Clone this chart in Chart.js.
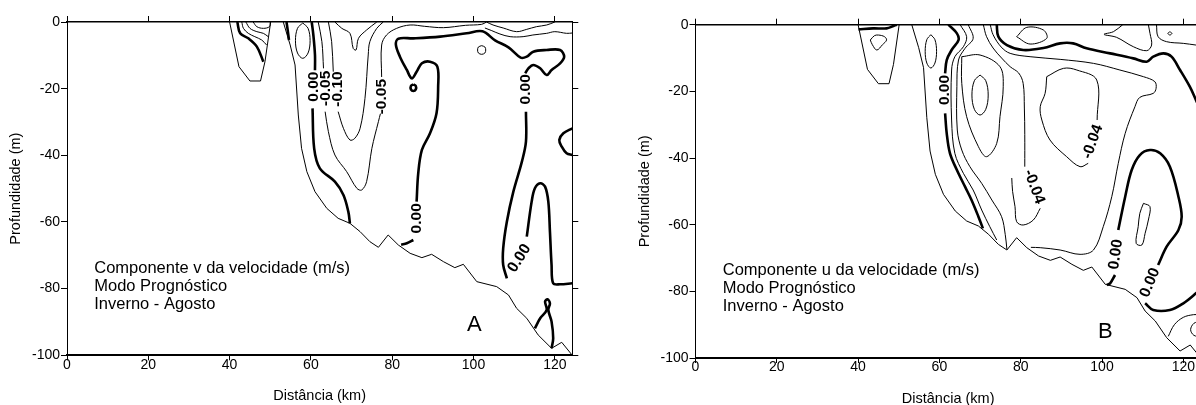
<!DOCTYPE html>
<html>
<head>
<meta charset="utf-8">
<script src="https://cdn.jsdelivr.net/npm/chart.js@4.4.1/dist/chart.umd.min.js"></script>
<style>
  html, body { margin: 0; padding: 0; background: #fff; overflow: hidden; }
  #wrap { position: relative; width: 1196px; height: 405px; overflow: hidden; }
  #chartA { position: absolute; left: 0; top: 0; }
  #chartB { position: absolute; left: 628px; top: 0; }
</style>
</head>
<body>
<div id="wrap">
  <canvas id="chartA" width="600" height="405"></canvas>
  <canvas id="chartB" width="600" height="405"></canvas>
</div>
<script>
// Axis ticks (km, m)
const xTicks = [0, 20, 40, 60, 80, 100, 120];
const yTicks = [-100, -80, -60, -40, -20, 0];
const X_MAX = 124.3;

// Bottom profile, shared by both sections: [distance km, depth m]
const bathyBasin = [[40, 0], [42.3, -13.4], [45, -17.7], [47.6, -17.7], [48.7, -11.9], [50.1, 0]];
const bathyMain = [[53.2, 0], [54.9, -6.9], [56.1, -12.9], [56.9, -27.9], [57.7, -37.9], [59, -44.9],
  [61, -50.9], [63.9, -55.9], [66.7, -58.9], [69.6, -60.4], [72.1, -62.9], [74.5, -65.9], [76.6, -67.6],
  [79, -63.9], [81.5, -66.9], [84.4, -69.4], [87.3, -70.7], [89.7, -69.7], [92.6, -71.9], [95.4, -73.7],
  [97.5, -72.7], [100.8, -77.9], [105.7, -79.4], [108.6, -81.9], [110.6, -85.9], [113.1, -88.9],
  [115.9, -93.9], [119.2, -97.9], [121.7, -96.1], [124.3, -100]];

// --- Section A: v component contours (null = gap for a label) ---
const aBasinThick = [[41.9, 0], [42.6, -3.4], [44.6, -4.9], [46.7, -7.4], [48.3, -11.9]];
const aBasin1 = [[43, 0], [43.4, -1.9], [44.6, -3.4], [46.2, -4.4], [47.9, -5.4], [49.1, -6.9]];
const aBasin2 = [[44, 0], [45, -1.9], [46.7, -2.9], [48.3, -3.4], [49.5, -4.4]];
const aBasin3 = [[45.8, 0], [46.7, -1.4], [48.3, -1.9], [49.8, -1.4], [50, 0]];
const aShelfThick = [[54, 0], [54.3, -2.5], [54.6, -5.4]];
const aEllipse = [[58, -0.3], [59.3, -1.9], [59.8, -5.6], [59.3, -9.3], [58, -10.9], [56.7, -9.3],
  [56.2, -5.6], [56.7, -1.9], [58, -0.3]];
const aZeroWest = [[60.2, 0], [60.6, -3.9], [61, -9.9], [61, -14.5], null, [60.4, -25.9], [60.8, -37.9],
  [62.2, -43.9], [65.9, -47.9], [68, -51.9], [69.2, -56.9], [69.6, -60.4]];
const aMinus05 = [[61.8, 0], [62.7, -5.9], [63.1, -13.9], null, [63.5, -26.9], [64.3, -32.9], [65.9, -39.9],
  [68.8, -44.9], [71.3, -49.9], [72.5, -50.4], [73.7, -47.9], [75, -37.9], [76.6, -29.9], [77.1, -27.5],
  null, [77.4, -16.5], [77.4, -6.9], [78.6, -3.9], [81.1, -1.9], [84.4, -0.9], [88, -1.3], [92.6, -1.7],
  [98, -1], [102, -0.7], [103.2, 0]];
const aMinus10 = [[64.3, 0], [65.1, -5.9], [65.5, -14.9], null, [66.7, -26.9], [68, -31.9], [69.6, -35.4],
  [70.8, -34.9], [72.1, -31.9], [73.3, -22.9], [74.1, -9.9], [74.5, -5.9], [76.2, -1.9], [77.8, 0]];
const aSurfaceV = [[65.9, 0], [67.6, -1.9], [69.6, -3.4], [70.4, -7.9], [71.1, -8.4], [71.7, -4.9],
  [73.7, -2.4], [76.2, 0]];
const aZeroMain = [[82.2, -66.8], [83.6, -66.4], [85.2, -65.4], null, [86, -53.9], [86.4, -45.4],
  [87.3, -38.4], [89.3, -33.4], [90.9, -27.4], [91.3, -19.4], [91.1, -13.4], [89.3, -11.9], [87.3, -12.4],
  [86, -14.9], [84.8, -16.9], [83.6, -14.4], [81.9, -10.4], [80.9, -6.8], [81.5, -5], [85.2, -4.9],
  [91.8, -4.4], [98.3, -3.4], [102.2, -2.8], [105.3, -5.5], [108.6, -7.6], [111.6, -10.7], [113.1, -10.4],
  [114.7, -8.9], [118, -8.4], [121.3, -8.4], [122.3, -10.4], [121.3, -12.4], [119.2, -14.4], [118, -15.9],
  [116.4, -13.9], [114.7, -12.9], [113.5, -13.9], [112.7, -15.4], null, [112.9, -26.9], [112.9, -35.9],
  [111.9, -41.9], [109.8, -50.9], [108.2, -59.9], [107.3, -67.9], [107.3, -72.9], [108.2, -76.9], null,
  [113.1, -64.4], [114.3, -53.9], [115.1, -49.9], [116.4, -48.4], [117.6, -49.4], [118.4, -53.9],
  [118.8, -62.9], [119.2, -72.9], [119.6, -78.4], [121.3, -78.7], [124.3, -78.4]];
const aSpotThick = [[85.2, -18.7], [85.8, -19.2], [85.8, -20.2], [85.2, -20.7], [84.6, -20.2], [84.6, -19.2], [85.2, -18.7]];
const aSpotThin = [[102, -7.1], [102.8, -7.5], [103, -8.4], [102.8, -9.3], [102, -9.7], [101.2, -9.3],
  [101, -8.4], [101.2, -7.5], [102, -7.1]];
const aEastBump = [[124.3, -31.9], [122.1, -33.4], [121.1, -35.4], [121.7, -37.4], [122.9, -39.4], [124.3, -39.9]];
const aBottomLoop = [[115.1, -91.9], [116.4, -88.9], [118, -86.4], [117.6, -83.9], [118.2, -83.2],
  [118.8, -84.4], [118.4, -86.4], [119.2, -89.9], [119.6, -94.9], [119.2, -97.9]];
const aTop1 = [[103.2, 0], [104.8, -0.9], [107.3, -1.8], [110.6, -2.9], [113.1, -2.2], [115.5, -1.4], [118, -0.9], [120, 0]];
const aTop2 = [[102.8, -1.8], [104.5, -2.6], [106.5, -3.6], [109, -4.4], [112.2, -4.4], [114.6, -3.9],
  [118, -3.4], [120, -2.9], [122.9, -3.4], [124.3, -3.3]];

const labelsA = [['0.00', 60.6, -19.4, -90], ['-0.05', 63.7, -19.9, -90], ['-0.10', 66.5, -20.1, -90],
  ['-0.05', 77.4, -22.4, -90], ['0.00', 112.9, -20.2, -90], ['0.00', 86, -58.9, -90], ['0.00', 111.3, -70.9, -58]];
const notesA = ['Componente v da velocidade (m/s)', 'Modo Prognóstico', 'Inverno - Agosto'];

// --- Section B: u component contours ---
const bBasinThick = [[40.1, -1.4], [43.7, -1.1], [47, -1.1], [48.7, -0.4], [49.5, 0]];
const bBasinLoop = [[43, -4.6], [44, -3.3], [45, -3.1], [46.5, -3.6], [47, -4.6], [46, -6], [44.6, -7.6], [43.5, -6], [43, -4.6]];
const bEllipse = [[57.9, -3], [58.9, -4.5], [59.3, -8], [58.9, -11.5], [57.9, -13], [56.9, -11.5],
  [56.5, -8], [56.9, -4.5], [57.9, -3]];
const bZeroWest = [[62.2, 0], [64.3, -2.6], [64.7, -4.6], [63, -7.6], [61.8, -10.6], [61.4, -14.6], null,
  [61.4, -26.6], [61.8, -32.6], [62.6, -38.6], [64.3, -43.6], [66.3, -48.6], [67.9, -52.6], [69.6, -57.6], [70.7, -61.1]];
const bWest1 = [[65.1, 0], [66.7, -3.6], [65.9, -6.6], [63.8, -9.6], [63, -13.6], [63, -28.6], [63.8, -38.6],
  [65.9, -44.6], [68.3, -49.6], [70.4, -55.6], [72.4, -60.6], [74.1, -64.6]];
const bWest2 = [[67.1, 0], [68.3, -4.1], [66.3, -7.1], [64.7, -10.6], [64.3, -18.6], [64.4, -31.6], [65.5, -37.6],
  [67.5, -42.6], [70.4, -47.6], [72.9, -52.6], [75.3, -57.6], [76.2, -63], [76.6, -67.4]];
const bCore = [[65.5, -9.6], [70, -9.1], [74.9, -12.6], [75.7, -18.6], [74.9, -27.6], [74.1, -35.6], [71.6, -39.6],
  [69.6, -36.6], [66.7, -27.6], [65.5, -17.6], [65.5, -9.6]];
const bCoreInner = [[70, -15.1], [71.4, -16.8], [72, -21.1], [71.4, -25.4], [70, -27.1], [68.6, -25.4],
  [68, -21.1], [68.6, -16.8], [70, -15.1]];
const bMinus04a = [[70.8, 0], [71.6, -3.6], [73.2, -7], [75.3, -10], [77.4, -12.6], [79.5, -14.5], [80.6, -17.6],
  [80.9, -25], [81, -33], [81, -42.6], null, [84.8, -55.1], [83.1, -58.6], [80.6, -60.1], [79, -59.1],
  [78.6, -54.6], [78, -50], [77.8, -46]];
const bMid = [[72.5, 0], [73.2, -3], [75.2, -6.7], [77.4, -8.6], [82.3, -9.6], [89.7, -10.4], [97.9, -11.6],
  [104.4, -13.6], [110.2, -15.6], [113, -17.1], [113.3, -19.1], [112.6, -20.6], [109.3, -21.8], [108.1, -24.6],
  [105.7, -32.6], [104, -41.6], [102.4, -51.6], [100.3, -60.6], [97.9, -67.6], [94.6, -68.9], [89.7, -67.6],
  [84.8, -66.9], [82.5, -66.8]];
const bMinus04b = [[86.4, -15.6], [90.5, -13.1], [93.8, -13.6], [98.7, -16.6], [98.8, -28.6], null,
  [96.6, -41.6], [94.6, -42.6], [91.3, -39.6], [87.2, -34.6], [85.2, -28.6], [84.8, -24.6], [86, -20.6], [86.4, -15.6]];
const bZeroTop = [[74.1, 0], [74.5, -3.6], [76.6, -6.1], [80.6, -7.6], [85.6, -7], [89.7, -5.6], [92.9, -5.6],
  [96.2, -7.1], [102, -8.6], [107.7, -10.1], [111, -11.1], [112.6, -9.6], [115.1, -8.6], [117.1, -9.6],
  [119.2, -13.6], [121.6, -18.6], [123.1, -22.6], [124.3, -26]];
const bZeroEast = [[101.2, -78.1], [102, -77.6], [103.2, -75.1], null, [104, -61.6], [105.7, -51.6],
  [107.3, -43.6], [109.3, -39.1], [111.8, -37.6], [114.3, -38.6], [116.7, -42.6], [118.8, -51.6],
  [119.6, -57.6], [118.8, -61.6], [115.9, -66.6], [113.8, -72.1], null, [110.6, -83.6], [112.6, -85.6],
  [116.7, -85.6], [120, -83.6], [123.1, -80.6], [124.3, -79.2]];
const bBlob = [[110.2, -53.6], [111.8, -54.6], [111.4, -58.6], [110.6, -62.6], [109.8, -66.1], [108.4, -65.6],
  [108.9, -60.6], [109.3, -56.6], [110.2, -53.6]];
const bSurfLoop = [[79, -3.6], [82.3, -5.8], [86.4, -4.1], [85.6, -1.6], [81.5, -0.8], [79, -3.6]];
const bSurf1 = [[105.1, 0], [102.8, -2.1], [100.5, -2.9], [103.6, -3.8], [107.7, -6.6], [111, -7.8],
  [112.2, -6.1], [111.8, -2.6], [111.4, 0]];
const bSurf2 = [[113.4, 0], [113.8, -3.6], [115.9, -5.1], [120, -5.6], [123.1, -6.1], [124.3, -6.3]];
const bSurfDot = [[116.7, -2.1], [117.2, -2.6], [116.7, -3.1], [116.2, -2.6], [116.7, -2.1]];
const bDeep1 = [[116.3, -93.5], [117.8, -90], [120, -87.8], [122.5, -87], [124.3, -87]];
const bDeep2 = [[124.3, -89], [122.6, -89.6], [121.8, -91.5], [122.6, -93.2], [124.3, -93.6]];

const labelsB = [['0.00', 61.2, -19.6, -90], ['-0.04', 97.7, -35.1, -70], ['-0.04', 83.3, -48.6, 70],
  ['0.00', 103.4, -68.9, -82], ['0.00', 111.8, -77.4, -68]];
const notesB = ['Componente u da velocidade (m/s)', 'Modo Prognóstico', 'Inverno - Agosto'];

const FONT = '"Liberation Sans", Arial, sans-serif';

// Turn [x, y] pairs into Chart.js points, null breaks the line
function toPoints(line) {
  const pts = [];
  let lastX = 0;
  line.forEach(p => {
    if (p === null) {
      pts.push({ x: lastX, y: null });
    } else {
      pts.push({ x: p[0], y: p[1] });
      lastX = p[0];
    }
  });
  return pts;
}

function lineDataset(line, width, smooth) {
  return {
    data: toPoints(line),
    showLine: true,
    borderColor: '#000',
    borderWidth: width,
    pointRadius: 0,
    pointHoverRadius: 0,
    tension: smooth ? 0.35 : 0,
    spanGaps: false,
    fill: false
  };
}

// Draws contour labels and the caption text on top of the lines
function textPlugin(labels, notes, letter, noteX, noteY, letterPos) {
  return {
    id: 'contourText',
    afterDatasetsDraw(chart) {
      const ctx = chart.ctx;
      const xs = chart.scales.x;
      const ys = chart.scales.y;
      ctx.save();
      ctx.fillStyle = '#000';
      ctx.textAlign = 'center';
      ctx.textBaseline = 'middle';
      ctx.font = 'bold 15.5px ' + FONT;
      labels.forEach(([text, x, y, rot]) => {
        ctx.save();
        ctx.translate(xs.getPixelForValue(x), ys.getPixelForValue(y));
        ctx.rotate(rot * Math.PI / 180);
        ctx.fillText(text, 0, 0);
        ctx.restore();
      });

      ctx.textAlign = 'left';
      ctx.font = '16.5px ' + FONT;
      notes.forEach((text, i) => {
        ctx.fillText(text, xs.getPixelForValue(noteX), ys.getPixelForValue(noteY - i * 5.4));
      });

      ctx.font = '22px ' + FONT;
      ctx.fillText(letter, xs.getPixelForValue(letterPos[0]), ys.getPixelForValue(letterPos[1]));
      ctx.restore();
    }
  };
}

function buildScales(box) {
  const tickFont = { family: FONT, size: 14 };
  const titleFont = { family: FONT, size: 14.5 };
  const grid = { drawOnChartArea: false, drawTicks: true, tickLength: 6, color: '#000' };
  return {
    x: {
      type: 'linear', position: 'bottom', min: 0, max: X_MAX,
      afterBuildTicks: s => { s.ticks = xTicks.map(v => ({ value: v })); },
      afterFit: s => { s.height = box.bottom; },
      grid: { ...grid, tickLength: 5 },
      border: { display: true, color: '#000', width: 2 },
      ticks: { color: '#000', font: tickFont, padding: -4, maxRotation: 0, autoSkip: false },
      title: { display: true, text: 'Distância (km)', color: '#000', font: titleFont,
        padding: { top: 0, bottom: box.xTitlePad } }
    },
    x2: {
      type: 'linear', position: 'top', min: 0, max: X_MAX,
      afterBuildTicks: s => { s.ticks = xTicks.map(v => ({ value: v })); },
      afterFit: s => { s.height = box.top; },
      grid: grid,
      border: { display: true, color: '#000', width: 1.5 },
      ticks: { display: false }
    },
    y: {
      type: 'linear', position: 'left', min: -100, max: 0,
      afterBuildTicks: s => { s.ticks = yTicks.map(v => ({ value: v })); },
      afterFit: s => { s.width = box.left; },
      grid: grid,
      border: { display: true, color: '#000', width: 1 },
      ticks: { color: '#000', font: tickFont, padding: 1 },
      title: { display: true, text: 'Profundidade (m)', color: '#000', font: titleFont,
        padding: { top: box.yTitlePad, bottom: 0 } }
    },
    y2: {
      type: 'linear', position: 'right', min: -100, max: 0,
      afterBuildTicks: s => { s.ticks = yTicks.map(v => ({ value: v })); },
      afterFit: s => { s.width = box.right; },
      grid: grid,
      border: { display: true, color: '#000', width: 1 },
      ticks: { display: false }
    }
  };
}

function buildChart(canvasId, thick, thin, labels, notes, letter, letterPos, box) {
  const datasets = [
    lineDataset(bathyBasin, 1, false),
    lineDataset(bathyMain, 1, false)
  ];
  thin.forEach(l => datasets.push(lineDataset(l, 1, true)));
  thick.forEach(l => datasets.push(lineDataset(l, 2.6, true)));

  return new Chart(document.getElementById(canvasId), {
    type: 'scatter',
    data: { datasets: datasets },
    options: {
      responsive: false,
      animation: false,
      events: [],
      layout: { padding: 0 },
      scales: buildScales(box),
      plugins: { legend: { display: false }, tooltip: { enabled: false } }
    },
    plugins: [textPlugin(labels, notes, letter, 6.7, -73.8, letterPos)]
  });
}

function init() {
  buildChart('chartA',
    [aBasinThick, aShelfThick, aZeroWest, aZeroMain, aSpotThick, aEastBump, aBottomLoop],
    [aBasin1, aBasin2, aBasin3, aEllipse, aMinus05, aMinus10, aSurfaceV, aSpotThin, aTop1, aTop2],
    labelsA, notesA, 'A', [98.4, -91],
    { left: 67, right: 27.7, top: 22, bottom: 49.7, xTitlePad: 0.3, yTitlePad: 6.8 });

  buildChart('chartB',
    [bBasinThick, bZeroWest, bZeroTop, bZeroEast],
    [bBasinLoop, bEllipse, bWest1, bWest2, bCore, bCoreInner, bMinus04a, bMid, bMinus04b, bBlob,
      bSurfLoop, bSurf1, bSurf2, bSurfDot, bDeep1, bDeep2],
    labelsB, notesB, 'B', [99, -92.3],
    { left: 67.5, right: 27.2, top: 24.7, bottom: 47, xTitlePad: -2.5, yTitlePad: 7.8 });
}

document.addEventListener('DOMContentLoaded', init);
</script>
</body>
</html>
